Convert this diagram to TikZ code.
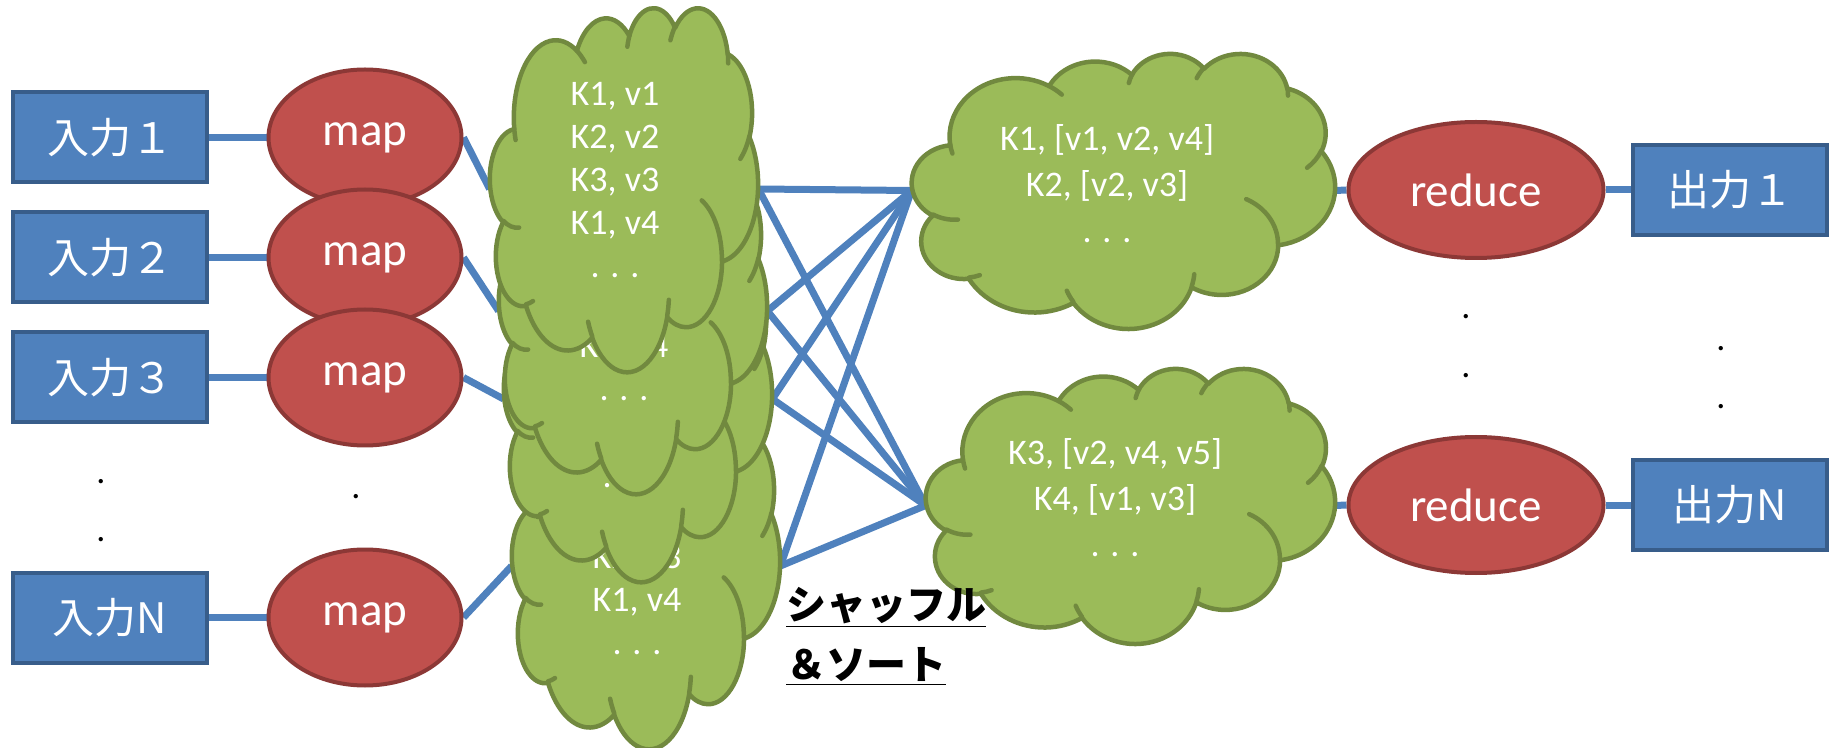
\documentclass[tikz,border=0pt]{standalone}
\usepackage{fontspec}
\setmainfont{Carlito}
\newfontfamily\jp{Noto Sans CJK JP}
\usetikzlibrary{shapes.geometric}
\definecolor{boxfill}{HTML}{4F81BD}
\definecolor{boxline}{HTML}{385D8A}
\definecolor{redfill}{HTML}{C0504D}
\definecolor{redline}{HTML}{8C3836}
\definecolor{cloudfill}{HTML}{9BBB59}
\definecolor{cloudline}{HTML}{71893F}
\definecolor{conn}{HTML}{4F81BD}
\pgfdeclarelayer{bg}
\pgfsetlayers{bg,main}

% elliptical arc given in DrawingML style (visual angles, degrees)
\newcommand{\oarc}[4]{\pgfextra{%
  \pgfmathparse{atan2((#1)*sin(#3),(#2)*cos(#3))}\global\let\oarcA\pgfmathresult
  \pgfmathparse{atan2((#1)*sin((#3)+(#4)),(#2)*cos((#3)+(#4)))}\global\let\oarcR\pgfmathresult
  \pgfmathparse{\oarcA+mod(\oarcR-\oarcA+720,360)}\global\let\oarcB\pgfmathresult
 } arc[start angle=\oarcA, end angle=\oarcB, x radius=#1, y radius=#2]}

% cloud: name, left, top, width, height (pixels)
\newcommand{\cloudnode}[5]{%
  \begin{scope}[shift={(#2,#3)},x={({#4*0.5pt/43.2},0pt)},y={(0pt,{-#5*0.5pt/43.2})}]
   \path[cloudbody] (3.9,14.37) \oarc{6.753}{9.19}{-190.4875}{123.7805}
     \oarc{5.333}{7.267}{-144.1024}{89.9452}
     \oarc{4.365}{5.945}{-145.8079}{99.7230}
     \oarc{4.857}{6.595}{-130.9861}{117.2417}
     \oarc{5.333}{7.273}{-78.7089}{109.0269}
     \oarc{6.775}{9.22}{-46.2673}{130.2690}
     \oarc{5.785}{7.867}{0.6250}{114.0333}
     \oarc{6.752}{9.215}{22.4516}{115.1726}
     \oarc{7.72}{10.543}{66.2426}{75.7110}
     \oarc{4.36}{5.918}{-274.9421}{146.7356}
     \oarc{4.345}{5.945}{-246.8285}{152.5189} -- cycle;
   \path[cloudedge] (4.693,26.177) \oarc{4.345}{5.945}{86.7420}{26.4295}
     (6.928,34.899) \oarc{4.36}{5.918}{73.6105}{11.4475}
     (16.478,39.09) \oarc{6.752}{9.215}{137.6242}{14.0811}
     (28.827,34.751) \oarc{6.752}{9.215}{6.4533}{15.9984}
     (34.129,22.954) \oarc{5.785}{7.867}{-70.2924}{70.9174}
     (41.798,15.354) \oarc{5.333}{7.273}{30.3180}{27.7515}
     (38.324,5.426) \oarc{4.857}{6.595}{-13.7443}{14.8589}
     (29.078,3.952) \oarc{4.857}{6.595}{-149.1815}{18.1954}
     (22.141,4.72) \oarc{4.365}{5.945}{-163.4943}{17.6864}
     (14,5.192) \oarc{6.753}{9.19}{-66.7070}{12.3194}
     (4.127,15.789) \oarc{6.753}{9.19}{157.6544}{11.8582};
  \end{scope}
  \node[inner sep=0pt, minimum width={#4*0.5pt}, minimum height={#5*0.5pt}] (#1) at ({#2+#4/2},{#3+#5/2}) {};}

\begin{document}
\begin{tikzpicture}[x=0.5pt,y=-0.5pt,
  cloudbody/.style={fill=cloudfill, draw=cloudline, line width=2.25pt, line join=round},
  cloudedge/.style={draw=cloudline, line width=2.25pt, line cap=round},
  inbox/.style={rectangle, fill=boxfill, draw=boxline, line width=2pt, minimum width=97pt, minimum height=45pt, inner sep=0pt, text=white, font=\jp\fontsize{21pt}{25pt}\selectfont},
  mapsty/.style={ellipse, fill=redfill, draw=redline, line width=2pt, minimum width=96.5pt, minimum height=68pt, inner sep=0pt, text=white, font=\fontsize{23.5pt}{27pt}\selectfont},
  redsty/.style={mapsty, minimum width=127.5pt},
  ltext/.style={align=center, inner sep=0pt, text=white, font=\fontsize{18pt}{21.5pt}\selectfont},
  rtext/.style={align=center, inner sep=0pt, text=white, font=\fontsize{18pt}{23pt}\selectfont},
  link/.style={draw=conn, line width=3.5pt},
  dotsty/.style={inner sep=0pt, text=black, font=\fontsize{18pt}{18pt}\selectfont},
  shuf/.style={align=left, inner sep=0pt, text=black, font=\jp\bfseries\fontsize{20pt}{30pt}\selectfont}]
\useasboundingbox (0,0) rectangle (1831,748);

% stacked map-output clouds (back to front)
\cloudnode{L4}{512}{384}{268}{364}
\node[ltext] (L4t) at (637,600) {K2, v3\\K1, v4\\. . .};
\cloudnode{L3}{504}{217}{268}{364}
\node[ltext, anchor=base] (L3t) at (627,487.6) {. . .};
\cloudnode{L2}{499}{129}{268}{364}
\node[ltext] (L2t) at (624,367) {K3, v4\\. . .};
\cloudnode{L1}{490}{7}{268}{364}
\node[ltext] (L1t) at (615,180) {K1, v1\\K2, v2\\K3, v3\\K1, v4\\. . .};

% reduce-input clouds
\cloudnode{R1}{912}{53}{423}{275}
\node[rtext] (R1t) at (1107,184) {K1, [v1, v2, v4]\\K2, [v2, v3]\\. . .};
\cloudnode{R2}{926}{368}{409}{275}
\node[rtext] (R2t) at (1115,498) {K3, [v2, v4, v5]\\K4, [v1, v3]\\. . .};

% inputs and maps
\node[inbox] (in1) at (110,137.5) {入力１};
\node[inbox] (in2) at (110,257.5) {入力２};
\node[inbox] (in3) at (110,377.5) {入力３};
\node[inbox] (inN) at (110,617.5) {入力N};
\node[mapsty] (map1) at (365,137.5) {map};
\node[mapsty] (map2) at (365,257.5) {map};
\node[mapsty] (map3) at (365,377.5) {map};
\node[mapsty] (mapN) at (365,617.5) {map};

% reduces and outputs
\node[redsty] (red1) at (1476,190) {reduce};
\node[redsty] (redN) at (1476,505) {reduce};
\node[inbox] (out1) at (1730,190) {出力１};
\node[inbox] (outN) at (1730,505) {出力N};

% ellipsis dots
\node[dotsty] (d1) at (101,482) {.};
\node[dotsty] (d2) at (101,540) {.};
\node[dotsty] (d3) at (356,497) {.};
\node[dotsty] (d4) at (1466,317) {.};
\node[dotsty] (d5) at (1466,376) {.};
\node[dotsty] (d6) at (1721,349) {.};
\node[dotsty] (d7) at (1721,407) {.};

% shuffle label
\node[shuf, anchor=north west] (shuffle) at (786,587) {\underline{シャッフル}\\\underline{＆ソート}};

\begin{pgfonlayer}{bg}
\draw[link] (in1.east) -- (map1.west);
\draw[link] (in2.east) -- (map2.west);
\draw[link] (in3.east) -- (map3.west);
\draw[link] (inN.east) -- (mapN.west);
\draw[link] (map1.east) -- (L1.west);
\draw[link] (map2.east) -- (L2.west);
\draw[link] (map3.east) -- (L3.west);
\draw[link] (mapN.east) -- (L4.west);
\foreach \s in {L1,L2,L3,L4}{
  \draw[link] (\s.east) -- (R1.west);
  \draw[link] (\s.east) -- (R2.west);
}
\draw[link] (R1.east) -- (red1.west);
\draw[link] (R2.east) -- (redN.west);
\draw[link] (red1.east) -- (out1.west);
\draw[link] (redN.east) -- (outN.west);
\end{pgfonlayer}
\end{tikzpicture}
\end{document}
